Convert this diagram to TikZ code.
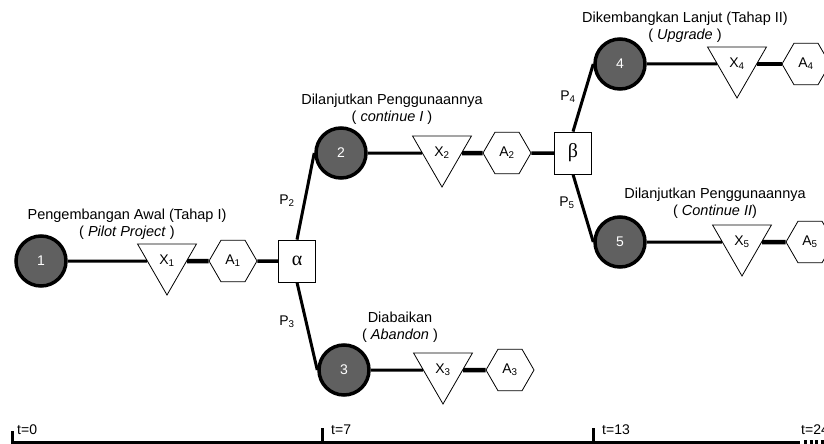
\documentclass[tikz,border=0pt]{standalone}
\usepackage{fontspec}
\setmainfont{Liberation Sans}
\newfontfamily\greekfont{Liberation Serif}
\usetikzlibrary{shapes.geometric}
\definecolor{stategrey}{RGB}{96,96,96}

\begin{document}
\begin{tikzpicture}[x=1pt,y=-1pt,
  every node/.style={font=\fontsize{14}{17}\selectfont},
  state/.style={circle, draw=black, line width=3.5pt, fill=stategrey,
    minimum size=50pt, inner sep=0pt, text=white},
  chance/.style={regular polygon, regular polygon sides=3,
    shape border rotate=180, draw, line width=0.8pt, minimum size=68pt,
    inner sep=0pt, fill=white},
  act/.style={regular polygon, regular polygon sides=6, draw,
    line width=0.8pt, minimum size=48pt, inner sep=0pt, fill=white},
  decision/.style={rectangle, draw, line width=0.8pt, minimum width=37pt,
    minimum height=42pt, inner sep=0pt, fill=white,
    font=\greekfont\fontsize{20}{20}\selectfont},
  title/.style={align=center, inner sep=0pt,
    font=\fontsize{14.5}{17}\selectfont},
  prob/.style={inner sep=0pt},
  thin link/.style={line width=3pt},
  thick link/.style={line width=4.5pt},
  mid link/.style={line width=3.5pt},
  branch/.style={line width=3pt},
  tlabel/.style={anchor=base west, inner sep=0pt,
    font=\fontsize{14}{14}\selectfont},
]
\useasboundingbox (0,0) rectangle (824,444);

% stage 1: pilot project
\node[state]    (n1) at (41,261)  {1};
\node[chance]   (x1) at (167,261) {X\textsubscript{1}};
\node[act]      (a1) at (233,261) {A\textsubscript{1}};
\node[decision] (al) at (297,261) {α};

% stage 2: continued use
\node[state]    (n2) at (341,153) {2};
\node[chance]   (x2) at (442,153) {X\textsubscript{2}};
\node[act]      (a2) at (507,153) {A\textsubscript{2}};
\node[decision] (be) at (573,153) {β};

% stage 3: abandoned
\node[state]    (n3) at (344,370) {3};
\node[chance]   (x3) at (443,370) {X\textsubscript{3}};
\node[act]      (a3) at (510,370) {A\textsubscript{3}};

% stage 4: upgrade
\node[state]    (n4) at (620,64)  {4};
\node[chance]   (x4) at (737,64)  {X\textsubscript{4}};
\node[act]      (a4) at (806,64)  {A\textsubscript{4}};

% stage 5: continued use II
\node[state]    (n5) at (620,242) {5};
\node[chance]   (x5) at (742,242) {X\textsubscript{5}};
\node[act]      (a5) at (810,242) {A\textsubscript{5}};

% links along each stage
\draw[thin link]  (n1) -- (x1);
\draw[thick link] (x1) -- (a1);
\draw[mid link]   (a1) -- (al);
\draw[thin link]  (n2) -- (x2);
\draw[thick link] (x2) -- (a2);
\draw[mid link]   (a2) -- (be);
\draw[thin link]  (n3) -- (x3);
\draw[thick link] (x3) -- (a3);
\draw[thin link]  (n4) -- (x4);
\draw[thick link] (x4) -- (a4);
\draw[thin link]  (n5) -- (x5);
\draw[thick link] (x5) -- (a5);

% decision branches
\draw[branch] (al.north) -- (n2.west);
\draw[branch] (al.south) -- (n3.west);
\draw[branch] (be.north) -- (n4.west);
\draw[branch] (be.south) -- (n5.west);

\node[prob] (p2) at (287,201) {P\textsubscript{2}};
\node[prob] (p3) at (287,322) {P\textsubscript{3}};
\node[prob] (p4) at (568,97)  {P\textsubscript{4}};
\node[prob] (p5) at (567,203) {P\textsubscript{5}};

% stage titles
\node[title] (t1) at (127,224) {Pengembangan Awal (Tahap I)\\( \textit{Pilot Project} )};
\node[title] (t2) at (392,109) {Dilanjutkan Penggunaannya\\( \textit{continue I} )};
\node[title] (t3) at (400,327) {Diabaikan\\( \textit{Abandon} )};
\node[title] (t4) at (685,27)  {Dikembangkan Lanjut (Tahap II)\\( \textit{Upgrade} )};
\node[title] (t5) at (715,203) {Dilanjutkan Penggunaannya\\( \textit{Continue II})};

% time axis
\coordinate (k0) at (12,442);
\coordinate (k7) at (322,442);
\coordinate (k13) at (593,442);
\coordinate (kend) at (800,442);
\coordinate (kmore) at (830,442);
\draw[line width=3pt] ([yshift=11pt]k0) -- (k0) -- (kend);
\draw[line width=3pt] ([yshift=14pt]k7) -- (k7);
\draw[line width=3pt] ([yshift=14pt]k13) -- (k13);
\draw[line width=4pt, dash pattern=on 3pt off 2.5pt] ([xshift=4pt]kend) -- (kmore);
\node[tlabel] (l0)  at (17,434)  {t=0};
\node[tlabel] (l7)  at (331,434) {t=7};
\node[tlabel] (l13) at (602,434) {t=13};
\node[tlabel] (l24) at (801,434) {t=24};
\end{tikzpicture}
\end{document}
